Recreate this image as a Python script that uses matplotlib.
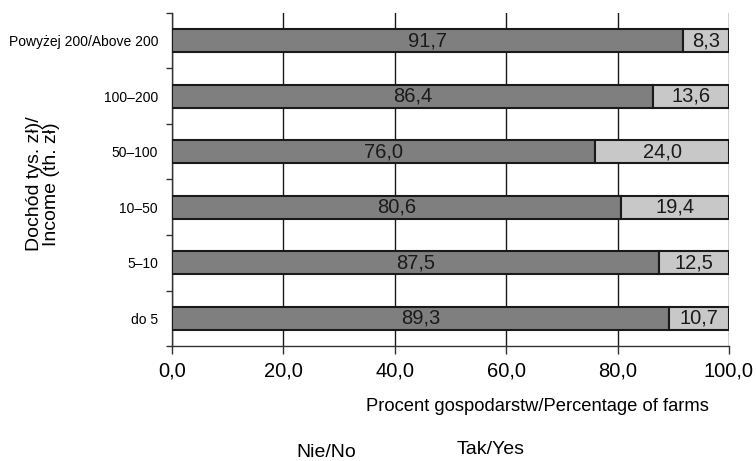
import matplotlib
matplotlib.use("Agg")
import matplotlib.pyplot as plt
import numpy as np

categories = ['do 5', '5–10', '10–50', '50–100', '100–200', 'Powyżej 200/Above 200']
nie = [89.3, 87.5, 80.6, 76.0, 86.4, 91.7]
tak = [10.7, 12.5, 19.4, 24.0, 13.6, 8.3]
xticks = [0, 20, 40, 60, 80, 100]

plt.rcParams['font.family'] = ['Liberation Sans', 'DejaVu Sans']

fig = plt.figure(figsize=(7.56, 4.61), dpi=100)
ax = fig.add_axes([172 / 756, 1 - 346 / 461, 557 / 756, 333 / 461])

y = np.arange(len(categories))
ax.barh(y, nie, height=0.41, color='#7f7f7f', edgecolor='#1a1a1a', linewidth=1.5, zorder=3)
ax.barh(y, tak, left=nie, height=0.41, color='#c8c8c8', edgecolor='#1a1a1a', linewidth=1.5, zorder=3)

def fmt(v):
    return f'{v:.1f}'.replace('.', ',')

for i in range(len(categories)):
    ax.text(nie[i] / 2, y[i], fmt(nie[i]), ha='center', va='center',
            fontsize=14.5, color='#1a1a1a', zorder=4)
    ax.text(nie[i] + tak[i] / 2, y[i], fmt(tak[i]), ha='center', va='center',
            fontsize=14.5, color='#1a1a1a', zorder=4)

ax.set_xlim(0, 100)
ax.set_ylim(-0.5, len(categories) - 0.5)
ax.set_xticks(xticks)
ax.set_xticklabels([fmt(v) for v in xticks], fontsize=14.5)
ax.set_yticks(y)
ax.set_yticklabels(categories, fontsize=10)
ax.set_yticks(np.arange(-0.5, len(categories), 1), minor=True)
ax.tick_params(axis='y', which='major', length=0, pad=10)
ax.tick_params(axis='y', which='minor', length=4, width=1, color='#333333')
ax.tick_params(axis='x', length=6, width=1, pad=5, color='#333333')
ax.xaxis.grid(True, color='#1a1a1a', linewidth=1, zorder=0)

for s in ['top', 'right']:
    ax.spines[s].set_visible(False)
ax.spines['left'].set_linewidth(1)
ax.spines['left'].set_color('#333333')
ax.spines['bottom'].set_linewidth(1)
ax.spines['bottom'].set_color('#333333')

ax.set_xlabel('Procent gospodarstw/Percentage of farms', fontsize=13.2)
ax.xaxis.label.set_va('center')
ax.xaxis.set_label_coords((537.5 - 172) / 557, (346 - 406) / 333)

fig.text(43 / 756, 1 - 184 / 461, 'Dochód tys. zł)/\nIncome (th. zł)', rotation=90,
         ha='center', va='center', fontsize=14, linespacing=1.05)

# legend labels (the reference shows only the texts, no swatches)
fig.text(326 / 756, 1 - 457 / 461, 'Nie/No', ha='center', va='baseline', fontsize=14)
fig.text(491 / 756, 1 - 454 / 461, 'Tak/Yes', ha='center', va='baseline', fontsize=14)

fig.savefig('out.png', dpi=100)
